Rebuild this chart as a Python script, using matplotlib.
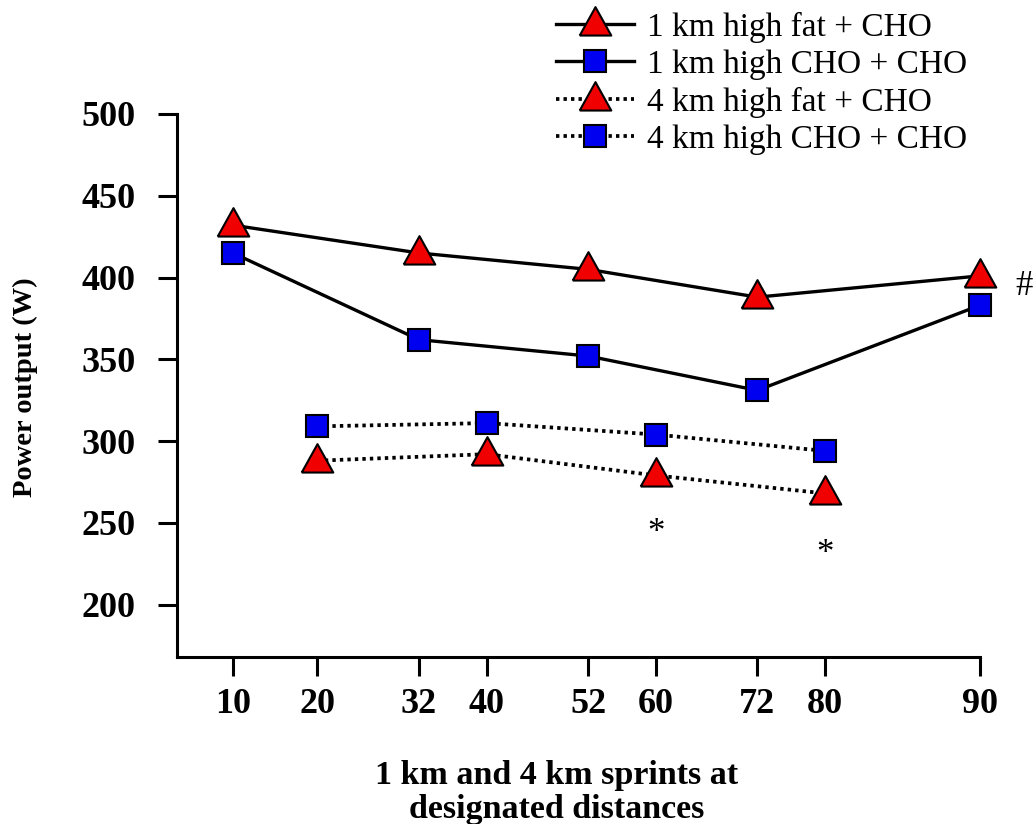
""" Power output in 1 km and 4 km sprints after high fat or high CHO diets. """

import matplotlib.pyplot as plt
import numpy as np

# sprint distances (km into the ride)
dist_1km = [10, 32, 52, 72, 90]
dist_4km = [20, 40, 60, 80]

# power output (W)
fat_1km = [432, 415, 405, 388, 401]
cho_1km = [415, 362, 352, 331, 383]
fat_4km = [288, 292, 279, 268]
cho_4km = [309, 311, 304, 294]

labels = ["1 km high fat + CHO", "1 km high CHO + CHO",
          "4 km high fat + CHO", "4 km high CHO + CHO"]
xticks = [10, 20, 32, 40, 52, 60, 72, 80, 90]
yticks = [200, 250, 300, 350, 400, 450, 500]


def fwd(x):
    """ stretch the last interval of the distance axis (80-90) """
    x = np.asarray(x, dtype=float)
    return np.where(x <= 80, x, 80 + (x - 80) * 1.83)


def inv(x):
    x = np.asarray(x, dtype=float)
    return np.where(x <= 80, x, 80 + (x - 80) / 1.83)


plt.rcParams['font.family'] = 'Liberation Serif'

fig = plt.figure(figsize=(10.36, 8.24), dpi=100)
ax = fig.add_axes([0.1708, 0.2027, 0.775, 0.659])
ax.set_xscale('function', functions=(fwd, inv))

tri = [(-1, -0.7), (1, -0.7), (0, 1.1), (-1, -0.7)]
red = '#f00000'
blue = '#0000f0'
dots = (0, (0.9, 1.1))

common = dict(markeredgecolor='black', markeredgewidth=1.5, color='black',
              clip_on=False, zorder=3)
ax.plot(dist_1km, fat_1km, linestyle='-', lw=2.4, marker=tri, ms=25,
        markerfacecolor=red, label=labels[0], **common)
ax.plot(dist_1km, cho_1km, linestyle='-', lw=2.4, marker='s', ms=16,
        markerfacecolor=blue, label=labels[1], **common)
ax.plot(dist_4km, fat_4km, linestyle=dots, lw=2.7, marker=tri, ms=25,
        markerfacecolor=red, label=labels[2], **common)
ax.plot(dist_4km, cho_4km, linestyle=dots, lw=2.7, marker='s', ms=16,
        markerfacecolor=blue, label=labels[3], **common)

# significance marks
ax.annotate('#', xy=(dist_1km[-1], fat_1km[-1]), xytext=(32, -8),
            textcoords='offset points', ha='center', va='center',
            fontsize=25)
for x, y, off in zip(dist_4km[2:], fat_4km[2:], [-42, -44]):
    ax.annotate('*', xy=(x, y), xytext=(0, off), textcoords='offset points',
                ha='center', va='center', fontsize=25)

ax.set_xlim(3.4, 90)
ax.set_ylim(168, 500)
ax.set_xticks(xticks)
ax.set_xticklabels([str(t) for t in xticks])
ax.set_yticks(yticks)
ax.minorticks_off()

for s in ['top', 'right']:
    ax.spines[s].set_visible(False)
for s in ['left', 'bottom']:
    ax.spines[s].set_linewidth(2.2)
ax.tick_params(direction='out', length=14, width=2.2, labelsize=26)
ax.tick_params(axis='y', pad=16)
ax.tick_params(axis='x', pad=8)
for lab in ax.get_xticklabels() + ax.get_yticklabels():
    lab.set_fontweight('bold')

fig.text(0.025, 0.53, "Power output (W)", rotation=90, ha='center',
         va='center', fontsize=20.5, fontweight='bold')
fig.text(0.537, 0.038, "1 km and 4 km sprints at\ndesignated distances",
         ha='center', va='center', fontsize=24.5, fontweight='bold',
         linespacing=1.1)

fig.legend(loc='upper left', bbox_to_anchor=(0.533, 0.99), frameon=False,
           fontsize=24, handlelength=2.35, handletextpad=0.4,
           labelspacing=0.2, borderpad=0.1, borderaxespad=0)

fig.savefig("out.png", dpi=100)
